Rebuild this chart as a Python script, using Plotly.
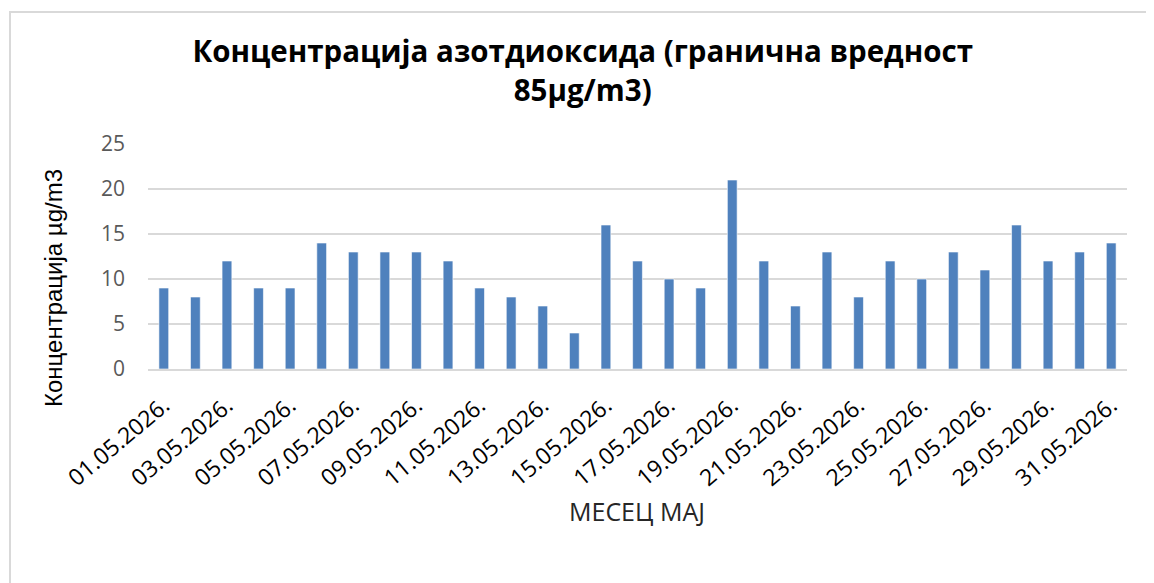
import plotly.graph_objects as go

days = [f"{d:02d}.05.2026." for d in range(1, 32)]
values = [9, 8, 12, 9, 9, 14, 13, 13, 13, 12, 9, 8, 7, 4, 16, 12, 10, 9, 21, 12, 7, 13, 8, 12, 10, 13, 11, 16, 12, 13, 14]
tick_labels = days[::2]
y_ticks = [0, 5, 10, 15, 20, 25]

W, H = 1154, 583
# page body has an 8px offset; margins chosen so the plot lands where the reference's is
L, R, T, B = 140, 35, 136, 222
pw = W - L - R
ph = H - T - B

fig = go.Figure()
fig.add_trace(go.Bar(
    x=days, y=values,
    marker=dict(color="#4f81bd", line=dict(color="white", width=0.6)),
    width=0.31,
))

fig.update_layout(
    width=W, height=H,
    margin=dict(l=L, r=R, t=T, b=B, autoexpand=False),
    paper_bgcolor="white", plot_bgcolor="white",
    font=dict(family="Open Sans, sans-serif", color="#000000"),
    showlegend=False,
    title=dict(
        text="<b>Концентрација азотдиоксида (гранична вредност<br>85µg/m3)</b>",
        x=0.498, xref="container", xanchor="center",
        y=0.907, yref="container", yanchor="top",
        font=dict(size=29.5, color="#000000", family="Open Sans, sans-serif"),
    ),
    xaxis=dict(
        type="category",
        tickmode="array", tickvals=tick_labels, ticktext=tick_labels,
        tickangle=-40,
        tickfont=dict(size=23, color="#000000"),
        showgrid=False, showline=True, linecolor="#d9d9d9", linewidth=2,
        ticks="", ticklabelstandoff=12,
    ),
    yaxis=dict(
        range=[0, 25], tickvals=y_ticks,
        tickfont=dict(size=21, color="#595959"),
        showgrid=True, gridcolor="#d9d9d9", gridwidth=2,
        zeroline=False, showline=False, ticks="",
        ticklabelstandoff=22,
    ),
)

# axis titles as annotations for precise placement
fig.add_annotation(
    text="МЕСЕЦ МАЈ", showarrow=False,
    xref="paper", yref="paper",
    x=(629 - L) / pw, y=(H - B - 503) / ph,
    xanchor="center", yanchor="middle",
    font=dict(size=25, color="#262626", family="Open Sans, sans-serif"),
)
fig.add_annotation(
    text="Концентрација µg/m3", showarrow=False, textangle=-90,
    xref="paper", yref="paper",
    x=(45 - L) / pw, y=(H - B - 280) / ph,
    xanchor="center", yanchor="middle",
    font=dict(size=24, color="#000000", family="Liberation Sans, Arial, sans-serif"),
)

# outer chart frame (light gray)
x0 = (2 - L) / pw
x1 = (1170 - L) / pw
y_top = (H - 4 - B) / ph
fig.add_shape(type="rect", xref="paper", yref="paper",
              x0=x0, x1=x1, y0=-B / ph - 0.1, y1=y_top,
              line=dict(color="#d9d9d9", width=2), fillcolor="rgba(0,0,0,0)", layer="below")

fig.write_html("out.html")
